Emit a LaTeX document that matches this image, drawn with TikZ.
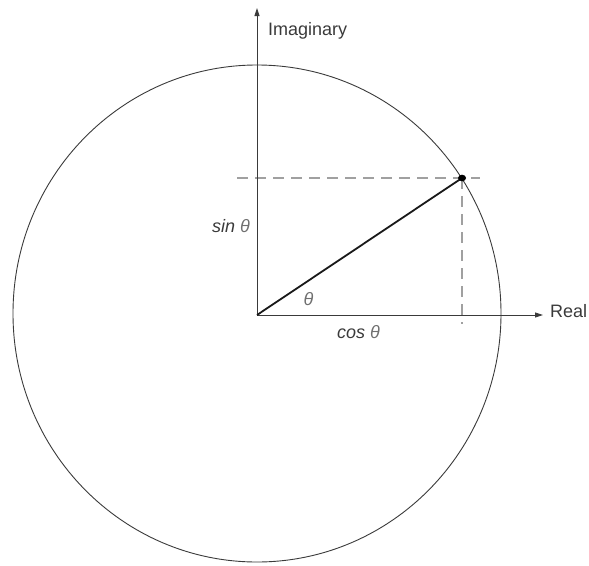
\documentclass[tikz,border=0pt]{standalone}
\usepackage{fontspec}
\setmainfont{Liberation Sans}
\usetikzlibrary{arrows.meta}
\definecolor{axisgray}{HTML}{3A3A3A}
\definecolor{dashgray}{HTML}{A0A0A0}
\definecolor{thetagray}{HTML}{707070}
\begin{document}
\begin{tikzpicture}[x=1pt,y=-1pt,
  lbl/.style={inner sep=0pt,font=\fontsize{18}{20}\selectfont,text=axisgray},
  axisline/.style={draw=axisgray,line width=0.9pt,-{Triangle[length=8pt,width=5pt]}},
  guide/.style={draw=dashgray,line width=1.1pt,dash pattern=on 11pt off 7pt},
  radius/.style={draw=black!90,line width=1.8pt}]
\useasboundingbox (0,0) rectangle (589,565);
% circle
\draw[axisgray,line width=0.9pt] (257,313.5) ellipse [x radius=244,y radius=248.5];
% coordinates
\coordinate (O) at (257,315);
\coordinate (Ytop) at (257,8);
\coordinate (Xend) at (543,315);
\coordinate (P) at (462,178);
\coordinate (Hl) at (237,178);
\coordinate (Hr) at (480,178);
\coordinate (Vb) at (462,324);
% dashed guides
\draw[guide] (Hl) -- (Hr);
\draw[guide] (P) -- (Vb);
% axes
\draw[axisline] (O) -- (Ytop);
\draw[axisline] (O) -- (Xend);
% radius
\draw[radius] (O) -- (P);
\fill[black] (P) ellipse [x radius=4,y radius=3.3];
% labels
\node[lbl,anchor=base west] (imag) at (268,35) {Imaginary};
\node[lbl,anchor=base west] (real) at (550,317) {Real};
\node[lbl,anchor=base east] (sin) at (250,232) {\textit{sin} \textcolor{thetagray}{\textit{θ}}};
\node[lbl,anchor=base west] (cos) at (337,338) {\textit{cos} \textcolor{thetagray}{\textit{θ}}};
\node[lbl,anchor=base,text=thetagray] (theta) at (308.5,305) {\textit{θ}};
\end{tikzpicture}
\end{document}
